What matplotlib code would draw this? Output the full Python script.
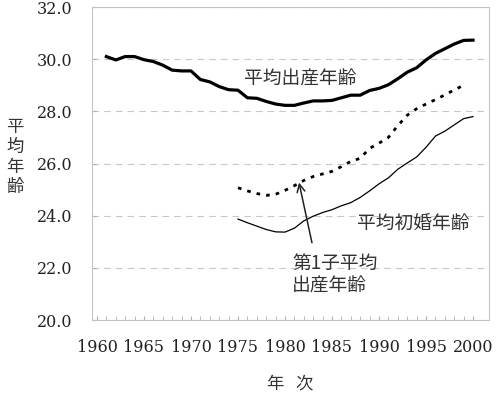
import matplotlib
matplotlib.use("Agg")
import matplotlib.pyplot as plt

plt.rcParams['font.family'] = ['Noto Sans CJK JP', 'DejaVu Sans']

# 平均出産年齢 (all births), 1961-2000
birth_years = list(range(1961, 2001))
birth_age = [30.10, 29.97, 30.10, 30.10, 29.98, 29.91, 29.77, 29.58, 29.55, 29.55,
             29.22, 29.13, 28.95, 28.83, 28.81, 28.52, 28.50, 28.38, 28.28, 28.23,
             28.23, 28.32, 28.40, 28.40, 28.42, 28.52, 28.62, 28.62, 28.80, 28.88,
             29.02, 29.25, 29.50, 29.67, 29.97, 30.22, 30.40, 30.58, 30.72, 30.73]

# 第1子平均出産年齢, 1975-1999
first_child_years = list(range(1975, 2000))
first_child_age = [25.07, 24.95, 24.85, 24.78, 24.82, 24.97, 25.15, 25.35, 25.50, 25.60,
                   25.70, 25.88, 26.08, 26.20, 26.58, 26.78, 27.00, 27.45, 27.85, 28.10,
                   28.28, 28.45, 28.63, 28.82, 29.00]

# 平均初婚年齢, 1975-2000
marriage_years = list(range(1975, 2001))
marriage_age = [23.87, 23.73, 23.60, 23.47, 23.38, 23.37, 23.52, 23.80, 23.98, 24.12,
                24.23, 24.38, 24.50, 24.70, 24.95, 25.22, 25.45, 25.78, 26.02, 26.25,
                26.62, 27.05, 27.24, 27.48, 27.72, 27.80]

x_ticks = list(range(1960, 2001, 5))
y_ticks = [20, 22, 24, 26, 28, 30, 32]

fig = plt.figure(figsize=(5.0, 3.94), dpi=100)
ax = fig.add_axes([0.1834, 0.1878, 0.7946, 0.7944])

ax.plot(birth_years, birth_age, color='black', linewidth=2.3, solid_joinstyle='round')
ax.plot(first_child_years, first_child_age, color='black', linewidth=2.0,
        linestyle=(0, (1.3, 2.2)))
ax.plot(marriage_years, marriage_age, color='black', linewidth=0.9)

ax.set_xlim(1959.44, 2001.7)
ax.set_ylim(20, 32)

ax.set_yticks(y_ticks)
ax.set_yticklabels([f"{v:.1f}" for v in y_ticks])
ax.set_xticks(x_ticks)
ax.set_xticklabels([str(v) for v in x_ticks])
ax.set_xticks(list(range(1960, 2001)), minor=True)

for lab in ax.get_xticklabels() + ax.get_yticklabels():
    lab.set_fontfamily('DejaVu Serif')
    lab.set_fontsize(11.5)
    lab.set_color('#222222')

ax.tick_params(axis='x', which='both', direction='in', length=3, color='#b0b0b0', pad=14)
ax.tick_params(axis='y', which='major', direction='in', length=3, color='#b0b0b0', pad=14)

for s in ax.spines.values():
    s.set_color('#c4c4c4')
    s.set_linewidth(0.8)

ax.grid(axis='y', color='#c8c8c8', linewidth=0.8, linestyle=(0, (6, 4.5)))
ax.set_axisbelow(True)

cjk = ['Noto Sans CJK JP', 'DejaVu Sans']
ax.text(1981.6, 29.23, '平均出産年齢', ha='center', va='center', fontsize=13.5,
        color='#333333', family=cjk)
ax.text(1993.6, 23.65, '平均初婚年齢', ha='center', va='center', fontsize=13.5,
        color='#333333', family=cjk)
ax.text(1980.74, 21.73, '第1子平均\n出産年齢', ha='left', va='center', fontsize=13.5,
        color='#333333', family=cjk, multialignment='left', linespacing=1.1)
ax.annotate('', xy=(1981.49, 25.27), xytext=(1982.87, 22.96),
            arrowprops=dict(arrowstyle='->', color='#222222', lw=1.1,
                            mutation_scale=14, shrinkA=0, shrinkB=0))

fig.text(15 / 500, 1 - 157 / 394, '平\n均\n年\n齢', ha='center', va='center',
         fontsize=12.5, color='#333333', family=cjk, linespacing=1.15)
fig.text(290 / 500, 1 - 383 / 394, '年   次', ha='center', va='center',
         fontsize=12.5, color='#333333', family=cjk)

fig.savefig('out.png', dpi=100)
